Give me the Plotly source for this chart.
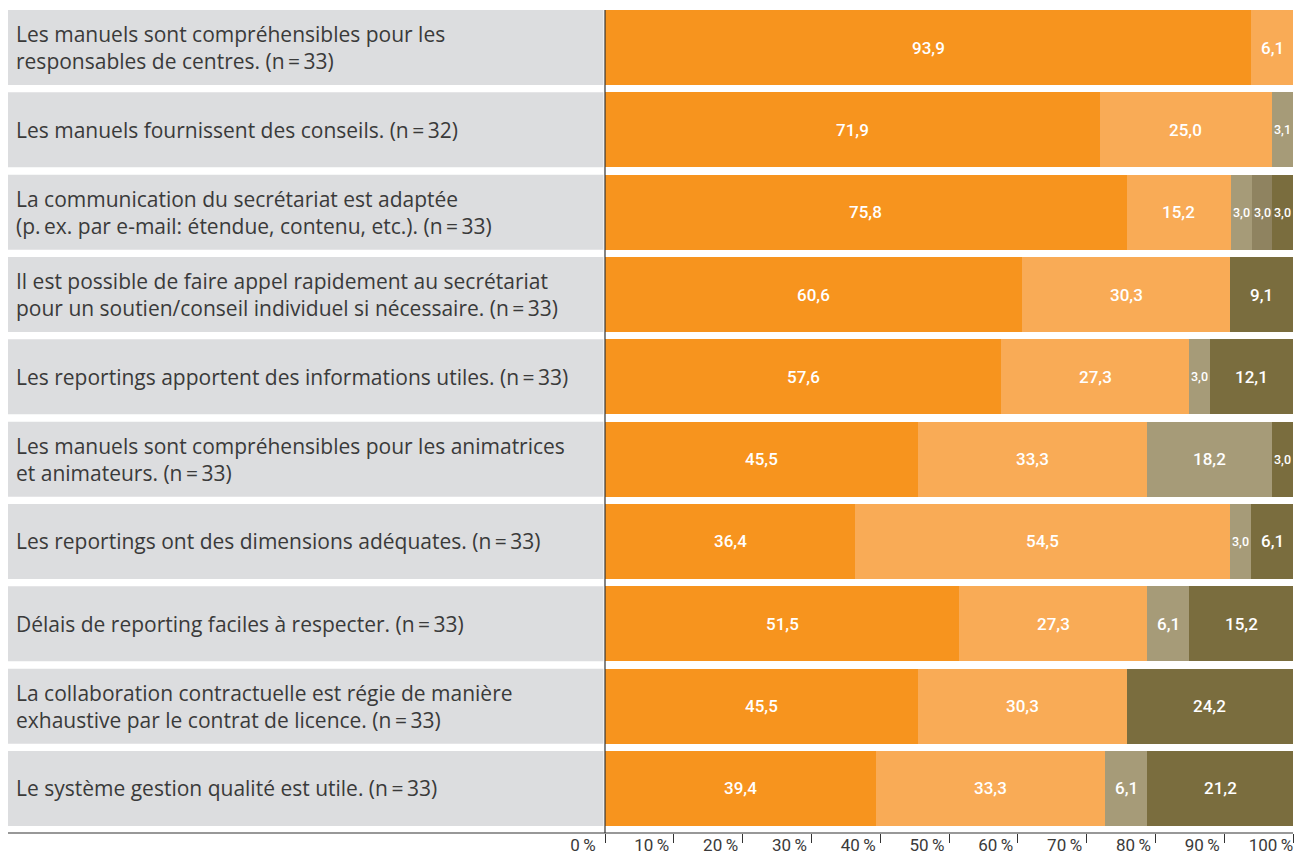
import plotly.graph_objects as go

labels = [
    "Les manuels sont compréhensibles pour les<br>responsables de centres. (n\u2009=\u200933)",
    "Les manuels fournissent des conseils. (n\u2009=\u200932)",
    "La communication du secrétariat est adaptée<br>(p.\u2009ex. par e-mail: étendue, contenu, etc.). (n\u2009=\u200933)",
    "Il est possible de faire appel rapidement au secrétariat<br>pour un soutien/conseil individuel si nécessaire. (n\u2009=\u200933)",
    "Les reportings apportent des informations utiles. (n\u2009=\u200933)",
    "Les manuels sont compréhensibles pour les animatrices<br>et animateurs. (n\u2009=\u200933)",
    "Les reportings ont des dimensions adéquates. (n\u2009=\u200933)",
    "Délais de reporting faciles à respecter. (n\u2009=\u200933)",
    "La collaboration contractuelle est régie de manière<br>exhaustive par le contrat de licence. (n\u2009=\u200933)",
    "Le système gestion qualité est utile. (n\u2009=\u200933)",
]

s1 = [93.9, 71.9, 75.8, 60.6, 57.6, 45.5, 36.4, 51.5, 45.5, 39.4]
s2 = [6.1, 25.0, 15.2, 30.3, 27.3, 33.3, 54.5, 27.3, 30.3, 33.3]
s3 = [0, 3.1, 3.0, 0, 3.0, 18.2, 3.0, 6.1, 0, 6.1]
s4 = [0, 0, 3.0, 0, 0, 0, 0, 0, 0, 0]
s5 = [0, 0, 3.0, 9.1, 12.1, 3.0, 6.1, 15.2, 24.2, 21.2]

series = [s1, s2, s3, s4, s5]
colors = ["#F7941E", "#F9AB56", "#A69B78", "#8F8360", "#7A6D3E"]

tick_vals = [0, 10, 20, 30, 40, 50, 60, 70, 80, 90, 100]
tick_text = [f"{v}\u2009%" for v in tick_vals]

FONT = "Roboto"
LABEL_FONT = "Open Sans"
W, H = 1299, 857
L, R, T, B = 605, 6, 8, 24
plot_w = W - L - R
plot_h = H - T - B

bargap = 0.089
ypos = list(range(len(labels)))

fig = go.Figure()
for s, c in zip(series, colors):
    fig.add_trace(go.Bar(
        x=s, y=ypos, orientation="h",
        marker=dict(color=c, line=dict(width=0)),
        hoverinfo="skip", showlegend=False,
    ))

shapes = []
annotations = []
half = (1 - bargap) / 2
for i, lab in enumerate(labels):
    shapes.append(dict(type="rect", xref="paper", yref="y",
                       x0=(8 - L) / plot_w, x1=-1.5 / plot_w,
                       y0=i - half, y1=i + half,
                       fillcolor="#DCDDDF", line=dict(width=0), layer="below"))
    annotations.append(dict(xref="paper", yref="y", x=(14 - L) / plot_w, y=i,
                            text=lab, showarrow=False, xanchor="left", yanchor="middle",
                            align="left", font=dict(family=LABEL_FONT, size=21, color="#3A3A3A")))
    cum = 0
    for s in series:
        v = s[i]
        if v > 0:
            small = v < 4
            annotations.append(dict(xref="x", yref="y", x=cum + v / 2, y=i,
                                    text=f"{v:.1f}".replace(".", ","), showarrow=False,
                                    xanchor="center", yanchor="middle",
                                    font=dict(family=FONT, size=12.5 if small else 17,
                                              weight=500, color="white")))
        cum += v

# bottom axis line extending under the labels
shapes.append(dict(type="line", xref="paper", yref="paper",
                   x0=(8 - L) / plot_w, x1=1, y0=0, y1=0,
                   line=dict(color="#333333", width=1.2)))
# vertical separator line
shapes.append(dict(type="line", xref="paper", yref="paper",
                   x0=0, x1=0, y0=0, y1=(H - B - 10) / plot_h,
                   line=dict(color="#333333", width=1.2)))

fig.update_layout(
    width=W, height=H,
    margin=dict(l=L, r=R, t=T, b=B, autoexpand=False),
    barmode="stack", bargap=bargap,
    paper_bgcolor="white", plot_bgcolor="white",
    shapes=shapes, annotations=annotations,
    xaxis=dict(range=[0, 100], tickvals=tick_vals, ticktext=tick_text,
               showgrid=False, zeroline=False, showline=False, automargin=False,
               ticks="outside", ticklen=9, tickcolor="#333333", tickwidth=1,
               ticklabelshift=-22, ticklabelstandoff=-12,
               tickfont=dict(family=FONT, size=17, color="#3A3A3A"), fixedrange=True),
    yaxis=dict(range=[9.541, -0.48], showticklabels=False, showgrid=False,
               zeroline=False, showline=False, ticks="", fixedrange=True,
               automargin=False),
)

fig.write_html("out.html", config={"displayModeBar": False},
               post_script="document.body.style.margin='0';")
